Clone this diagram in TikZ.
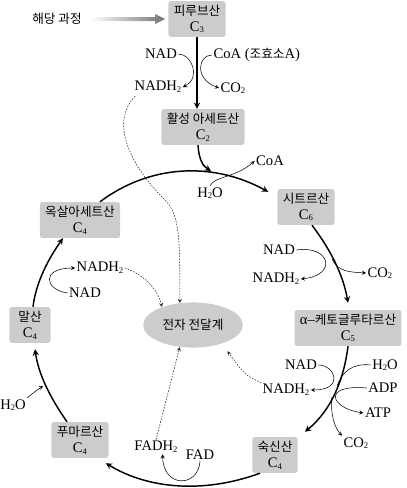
\documentclass[tikz,border=0pt]{standalone}
\usepackage{fontspec}
\setmainfont{Liberation Serif}
\newfontfamily\kr{Noto Sans CJK KR}
\usetikzlibrary{shapes,arrows,positioning,calc}
\newcommand{\krtext}[1]{{\kr\fontsize{9.5}{12}\selectfont #1}}
\newcommand{\sub}[1]{\raisebox{-0.25ex}{\fontsize{6.5}{7}\selectfont #1}}
\tikzstyle{stage} = [rectangle, fill=black!20, rounded corners=2pt, text centered,
    align=center, minimum height=27pt, inner xsep=4pt, inner ysep=1pt]
\tikzstyle{cycarrow} = [line width=1.1pt,->,>=stealth]
\tikzstyle{sidearrow} = [thin,->,>=stealth]
\tikzstyle{dotarrow} = [dash pattern=on 1.2pt off 1pt, thin, ->, >=stealth, black!85]
\tikzstyle{mol} = [inner sep=1pt]

\begin{document}
\begin{tikzpicture}[x=0.2646mm, y=-0.2646mm, font=\fontsize{11}{12}\selectfont]
\useasboundingbox (0,0) rectangle (406,488);
% stages of the cycle
\node[mol] (gly) at (57,19) {\krtext{해당 과정}};
\node[stage] (pyr) at (197,19) {\krtext{피루브산}\\C\sub{3}};
\node[stage] (act) at (203,127) {\krtext{활성 아세트산}\\C\sub{2}};
\node[stage] (cit) at (306,207) {\krtext{시트르산}\\C\sub{6}};
\node[stage] (akg) at (348,328) {α–\krtext{케토글루타르산}\\C\sub{5}};
\node[stage] (suc) at (275,455) {\krtext{숙신산}\\C\sub{4}};
\node[stage] (fum) at (80,440) {\krtext{푸마르산}\\C\sub{4}};
\node[stage, minimum width=31pt] (mal) at (30,325) {\krtext{말산}\\C\sub{4}};
\node[stage] (oxa) at (80,220) {\krtext{옥살아세트산}\\C\sub{4}};
\node[ellipse, fill=black!20, minimum width=75pt, minimum height=34pt] (ets) at (193,325) {\krtext{전자 전달계}};
% small molecules
\node[mol] (nad1) at (161,54) {NAD};
\node[mol, anchor=west] (coa1) at (212,55) {CoA (\krtext{조효소}A)};
\node[mol] (nadh1) at (158,87) {NADH\sub{2}};
\node[mol] (co21) at (233,88) {CO\sub{2}};
\node[mol] (coa2) at (270,161) {CoA};
\node[mol] (h2o2) at (210,193) {H\sub{2}O};
\node[mol] (nad4) at (279,250) {NAD};
\node[mol] (nadh4) at (276,279) {NADH\sub{2}};
\node[mol] (co24) at (380,273) {CO\sub{2}};
\node[mol] (nad5) at (301,365) {NAD};
\node[mol] (h2o5) at (385,365) {H\sub{2}O};
\node[mol] (adp) at (383,388) {ADP};
\node[mol] (nadh5) at (286,390) {NADH\sub{2}};
\node[mol] (atp) at (378,413) {ATP};
\node[mol] (co25) at (356,443) {CO\sub{2}};
\node[mol] (fadh) at (156,447) {FADH\sub{2}};
\node[mol] (fad) at (200,455) {FAD};
\node[mol] (h2o3) at (13,405) {H\sub{2}O};
\node[mol] (nadh3) at (100,268) {NADH\sub{2}};
\node[mol] (nad3) at (85,293) {NAD};
\coordinate (jn) at (211,171);
\coordinate (r1) at (332,259);
\coordinate (r2) at (337,386);
\coordinate (r3) at (332,397);
\coordinate (w3) at (43,386);
% glycolysis
\shade[left color=white, right color=black!55]
  ($(gly.east)+(7,-2)$) -- ($(pyr.west)+(-13,-2)$) -- ($(pyr.west)+(-13,-5)$)
  -- ($(pyr.west)+(-3,0)$) -- ($(pyr.west)+(-13,5)$) -- ($(pyr.west)+(-13,2)$)
  -- ($(gly.east)+(7,2)$) -- cycle;
% main path
\draw[cycarrow] (pyr.south) -- (pyr.south |- act.north);
\draw[cycarrow] ($(act.south)+(-5,0)$) .. controls (199,160) and (203,166) .. (jn);
\draw[cycarrow] ($(oxa.north)+(20,0)$) .. controls (149,165) and (212,161) .. ($(cit.north west)+(-9,3)$);
\draw[cycarrow] ($(cit.south)+(6,0)$) .. controls (330,249) and (343,274) .. ($(akg.north)+(0,-7)$);
\draw[cycarrow] (akg.south) .. controls (344,378) and (332.5,409) .. ($(suc.north east)+(7,-5)$);
\draw[cycarrow] ($(suc.south west)+(8,0)$) .. controls (206,493) and (150,490) .. ($(fum.south east)+(-3,5)$);
\draw[cycarrow] ($(fum.north)+(-13,0)$) .. controls (50.7,398.5) and (38.6,374.8) .. ($(mal.south)+(5,6)$);
\draw[cycarrow] ($(mal.north)+(3,0)$) .. controls (36,282) and (48.5,258.7) .. ($(oxa.south)+(-17,0)$);
% side reactions
\draw[sidearrow] (nad1.east) .. controls (192,54) and (201,78) .. (nadh1.east);
\draw[sidearrow] (coa1.west) .. controls (198,55) and (194,79) .. (co21.west);
\draw[sidearrow] (h2o2.north) .. controls (215,176) and (235,178) .. (coa2.west);
\draw[sidearrow] (nad4.east) .. controls (330,245) and (338,275) .. (nadh4.east);
\draw[sidearrow] (r1) .. controls (338,272) and (350,272) .. (co24.west);
\draw[sidearrow] (nad5.east) .. controls (335,365) and (345,390) .. (nadh5.east);
\draw[thin] (h2o5.west) .. controls (352,363) and (342,372) .. (r2);
\draw[sidearrow] (adp.west) .. controls (322,384) and (330,408) .. (atp.west);
\draw[sidearrow] (r3) .. controls (330,415) and (335,428) .. (co25.north west);
\draw[sidearrow] (fad.south) .. controls (198,488) and (163,488) .. ([xshift=5pt]fadh.south);
\draw[sidearrow] (h2o3.north east) .. controls (32,394) and (37,390) .. (w3);
\draw[sidearrow] (nad3.west) .. controls (45,290) and (40,268) .. (nadh3.west);
% to the electron transport chain
\draw[dotarrow] ($(nadh1.south west)+(2,2)$) .. controls (112,120) and (125,160) .. (165,200)
  .. controls (180,215) and (180,240) .. (ets.121);
\draw[dotarrow] (nadh3.east) .. controls (145,275) and (158,290) .. (ets.150);
\draw[dotarrow, shorten >=7pt] (nadh5.north west) .. controls (245,375) .. (ets.-33);
\draw[dotarrow] (fadh.north) -- (ets.-121);
\end{tikzpicture}
\end{document}
